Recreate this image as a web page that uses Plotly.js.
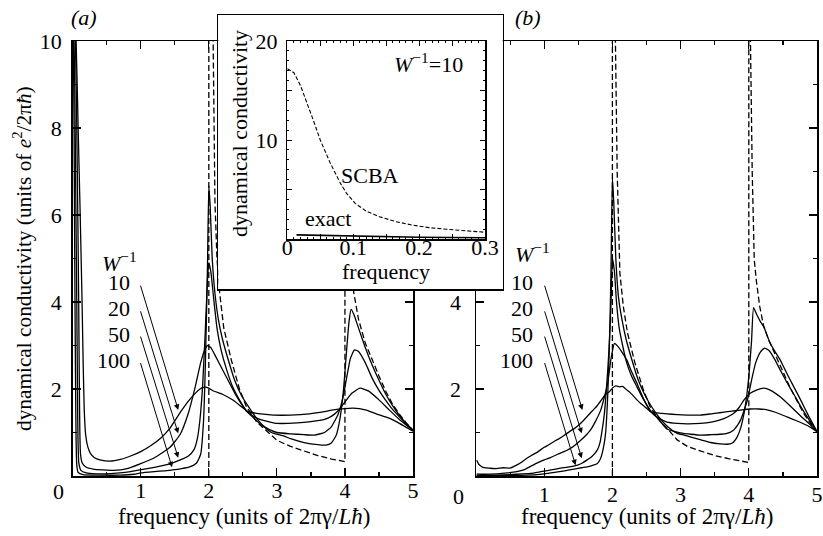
<!DOCTYPE html>
<html>
<head>
<meta charset="utf-8">
<script src="https://cdn.plot.ly/plotly-3.0.1.min.js"></script>
<style>html,body{margin:0;padding:0;background:#fff;}#chart{width:823px;height:536px;}</style>
</head>
<body>
<div id="chart"></div>
<script>
// ---------------- DATA ----------------
// Panel (a): W^-1 = 10, 20, 50, 100 (solid) and dashed reference curve
const aX10 = [0.015,0.05,0.08,0.11,0.135,0.155,0.17,0.19,0.22,0.26,0.32,0.4,0.55,0.7,0.85,1.0,1.15,1.3,1.43,1.58,1.7,1.8,1.87,1.93,2.0,2.06,2.2,2.36,2.58,2.8,2.95,3.2,3.48,3.7,3.83,4.0,4.12,4.3,4.46,4.65,4.8,5.0];
const aY10 = [11,10,8,6,4.2,2.5,1.5,0.95,0.68,0.52,0.42,0.37,0.34,0.38,0.46,0.56,0.7,0.88,1.1,1.46,1.72,1.9,2.0,2.04,2.02,1.96,1.88,1.74,1.48,1.42,1.4,1.4,1.43,1.48,1.52,1.55,1.56,1.52,1.43,1.33,1.21,1.03];

const aX20 = [0.01,0.04,0.06,0.075,0.088,0.097,0.105,0.115,0.14,0.2,0.3,0.45,0.6,0.8,0.99,1.2,1.43,1.58,1.7,1.8,1.88,1.94,1.98,2.03,2.1,2.2,2.3,2.4,2.55,2.65,2.75,2.9,3.0,3.3,3.5,3.7,3.8,3.9,4.0,4.1,4.22,4.35,4.5,4.65,4.8,5.0];
const aY20 = [11,10,8,6,4,2.2,1.0,0.5,0.3,0.2,0.16,0.14,0.13,0.17,0.28,0.42,0.66,0.96,1.45,2.05,2.6,2.9,3.0,2.95,2.75,2.45,2.15,1.85,1.5,1.38,1.3,1.24,1.21,1.22,1.25,1.3,1.37,1.5,1.7,1.9,2.02,1.95,1.75,1.52,1.3,1.05];

const aX50 = [0.01,0.03,0.045,0.06,0.07,0.078,0.09,0.12,0.2,0.35,0.5,0.7,0.85,0.99,1.2,1.43,1.58,1.7,1.78,1.83,1.87,1.91,1.95,1.98,2.0,2.03,2.07,2.12,2.18,2.26,2.35,2.45,2.55,2.65,2.75,2.9,3.0,3.2,3.4,3.55,3.7,3.8,3.9,3.97,4.03,4.08,4.14,4.2,4.3,4.4,4.5,4.6,4.7,4.8,4.9,5.0];
const aY50 = [11,9,6.5,4,2,0.8,0.3,0.13,0.07,0.05,0.05,0.07,0.1,0.14,0.2,0.28,0.37,0.46,0.6,0.85,1.3,2.1,3.4,4.5,4.9,4.7,4.1,3.4,2.9,2.45,2.05,1.75,1.5,1.35,1.2,1.06,1.0,0.97,0.95,0.94,1.0,1.13,1.42,1.8,2.3,2.7,2.9,2.86,2.6,2.25,1.97,1.74,1.53,1.36,1.2,1.05];

const aX100 = [0.005,0.02,0.03,0.04,0.05,0.06,0.08,0.15,0.4,0.7,0.9,1.0,1.2,1.35,1.47,1.6,1.72,1.82,1.88,1.92,1.95,1.98,2.0,2.02,2.05,2.09,2.14,2.2,2.28,2.38,2.48,2.58,2.7,2.82,2.92,3.0,3.1,3.2,3.4,3.6,3.72,3.8,3.87,3.93,3.98,4.02,4.06,4.09,4.13,4.2,4.3,4.4,4.5,4.6,4.7,4.8,4.9,5.0];
const aY100 = [11,8,5,2.5,0.8,0.25,0.08,0.03,0.02,0.02,0.04,0.07,0.1,0.12,0.14,0.17,0.21,0.3,0.5,1.2,2.6,4.8,6.67,6.2,5.0,4.2,3.6,3.15,2.7,2.2,1.85,1.6,1.33,1.12,1.0,0.96,0.92,0.86,0.77,0.72,0.71,0.76,0.93,1.35,2.0,2.8,3.55,3.83,3.72,3.4,2.95,2.55,2.2,1.88,1.62,1.4,1.21,1.05];

const aXd = [2.0,2.0,2.06,2.075,2.09,2.12,2.16,2.22,2.33,2.45,2.55,2.7,2.8,2.9,3.0,3.2,3.4,3.6,3.8,4.0,4.0,4.035,4.06,4.09,4.12,4.2,4.3,4.39,4.5,4.6,4.7,4.8,4.9,5.0];
const aYd = [0,10.5,10.5,8.0,6.3,5.0,4.2,3.4,2.67,2.0,1.6,1.25,1.1,0.95,0.82,0.68,0.57,0.47,0.39,0.33,10.5,10.5,7.5,5.3,4.3,3.6,3.05,2.7,2.3,1.95,1.65,1.42,1.22,1.05];

// Panel (b)
const bX10 = [0.01,0.04,0.08,0.12,0.2,0.3,0.4,0.5,0.58,0.65,0.72,0.8,0.9,1.0,1.08,1.15,1.22,1.29,1.37,1.45,1.52,1.59,1.66,1.72,1.78,1.84,1.9,1.95,2.0,2.05,2.1,2.15,2.21,2.27,2.32,2.36,2.42,2.47,2.56,2.65,2.8,2.95,3.1,3.29,3.45,3.6,3.68,3.8,3.9,4.02,4.15,4.27,4.4,4.56,4.7,4.86,5.0];
const bY10 = [0.36,0.27,0.22,0.19,0.18,0.17,0.19,0.18,0.24,0.3,0.38,0.46,0.55,0.66,0.73,0.8,0.86,0.93,1.02,1.1,1.19,1.3,1.42,1.52,1.62,1.75,1.88,1.93,2.02,2.07,2.05,2.06,1.98,1.9,1.82,1.75,1.66,1.6,1.48,1.45,1.43,1.41,1.40,1.40,1.43,1.46,1.48,1.5,1.52,1.54,1.54,1.52,1.46,1.36,1.27,1.16,1.02];

const bX20 = [0.01,0.1,0.3,0.46,0.6,0.7,0.8,0.9,1.0,1.1,1.2,1.29,1.4,1.54,1.62,1.68,1.75,1.83,1.88,1.93,1.98,2.03,2.08,2.14,2.21,2.28,2.36,2.45,2.56,2.68,2.8,2.95,3.1,3.29,3.45,3.58,3.68,3.78,3.86,3.93,4.02,4.12,4.22,4.32,4.46,4.6,4.76,4.9,5.0];
const bY20 = [0.05,0.04,0.05,0.07,0.1,0.14,0.22,0.3,0.37,0.43,0.5,0.56,0.65,0.83,0.95,1.06,1.25,1.52,1.8,2.13,2.7,3.05,2.98,2.85,2.67,2.4,2.13,1.8,1.48,1.33,1.24,1.21,1.2,1.21,1.24,1.29,1.35,1.44,1.58,1.75,1.9,1.98,2.02,1.97,1.82,1.62,1.38,1.18,1.02];

const bX50 = [0.01,0.3,0.6,0.8,0.95,1.1,1.24,1.37,1.49,1.56,1.63,1.7,1.78,1.82,1.85,1.88,1.9,1.93,1.95,1.98,2.0,2.03,2.06,2.1,2.15,2.21,2.28,2.36,2.46,2.56,2.68,2.8,2.92,3.04,3.15,3.29,3.45,3.58,3.68,3.78,3.84,3.88,3.93,3.98,4.04,4.1,4.17,4.23,4.3,4.38,4.46,4.56,4.66,4.76,4.88,5.0];
const bY50 = [0.02,0.02,0.04,0.06,0.1,0.14,0.18,0.21,0.25,0.3,0.37,0.45,0.6,0.78,1.06,1.4,1.75,2.4,2.9,4.0,5.0,4.7,4.0,3.4,3.0,2.6,2.3,2.05,1.75,1.5,1.3,1.08,1.02,0.98,0.96,0.94,0.95,0.96,0.98,1.06,1.18,1.29,1.5,1.75,2.2,2.6,2.85,2.94,2.88,2.68,2.44,2.15,1.88,1.6,1.3,1.02];

const bX100 = [0.01,0.5,0.9,1.1,1.3,1.44,1.55,1.63,1.72,1.78,1.82,1.85,1.88,1.9,1.93,1.96,1.98,2.0,2.02,2.05,2.09,2.14,2.2,2.28,2.38,2.48,2.58,2.7,2.82,2.95,3.05,3.14,3.3,3.44,3.58,3.68,3.76,3.83,3.88,3.93,3.97,4.0,4.04,4.07,4.12,4.17,4.22,4.3,4.38,4.46,4.56,4.66,4.76,4.88,5.0];
const bY100 = [0.01,0.01,0.03,0.07,0.12,0.16,0.19,0.21,0.25,0.29,0.38,0.52,0.75,0.98,1.8,3.2,4.8,6.85,6.3,5.0,4.1,3.6,3.15,2.7,2.2,1.85,1.58,1.32,1.12,0.98,0.94,0.9,0.83,0.77,0.74,0.73,0.76,0.9,1.1,1.44,1.85,2.28,3.1,3.87,3.7,3.55,3.43,3.1,2.87,2.67,2.35,2.05,1.75,1.37,1.02];

const bXd = [2.0,2.0,2.04,2.07,2.11,2.16,2.22,2.33,2.45,2.55,2.7,2.8,2.95,3.1,3.3,3.5,3.7,3.85,4.0,4.0,4.02,4.05,4.08,4.11,4.16,4.22,4.3,4.4,4.5,4.6,4.7,4.8,4.9,5.0];
const bYd = [0,10.5,10.5,7,4.66,3.9,3.3,2.6,2.0,1.6,1.25,1.1,0.83,0.68,0.57,0.47,0.4,0.35,0.31,10.5,10.5,7.0,4.97,4.5,3.9,3.43,3.1,2.75,2.4,2.05,1.75,1.45,1.22,1.02];

// Inset: W^-1 = 10, SCBA (dashed) and exact (solid)
const insX_scba = [0,0.01,0.02,0.03,0.04,0.05,0.065,0.08,0.09,0.103,0.12,0.14,0.165,0.19,0.215,0.242,0.27,0.3];
const insY_scba = [17.2,16.8,15.5,13.8,11.9,10.0,7.7,5.7,4.6,3.6,2.8,2.25,1.75,1.4,1.15,0.98,0.8,0.68];
const insX_exact = [0.014,0.03,0.045,0.07,0.1,0.15,0.2,0.25,0.3];
const insY_exact = [0.42,0.4,0.34,0.28,0.24,0.2,0.17,0.15,0.13];

// Labels
const wLabels = ['10','20','50','100'];
const aArrowHeadX = [1.55,1.55,1.55,1.46];
const aArrowHeadY = [1.52,0.98,0.42,0.2];
const aArrowTailX = [0.99,0.99,0.99,0.99];
const aArrowTailY = [4.41,3.82,3.24,2.63];
const bArrowHeadX = [1.56,1.55,1.55,1.46];
const bArrowHeadY = [1.52,0.98,0.41,0.25];
const bArrowTailX = [1.0,1.0,1.0,1.0];
const bArrowTailY = [4.41,3.82,3.24,2.63];
const mainXTicks = [0,1,2,3,4,5];
const mainXText = ['','1','2','3','4','5'];
const mainYTicks = [0,2,4,6,8,10];
const mainYText = ['','2','4','6','8','10'];
const insXTicks = [0,0.05,0.1,0.15,0.2,0.25,0.3];
const insXText = ['0','','0.1','','0.2','','0.3'];
const insYTicks = [0,5,10,15,20];
const insYText = ['','','10','','20'];

// ---------------- LAYOUT HELPERS ----------------
const W = 823, H = 536;
const FONT = 'Liberation Serif, Times New Roman, serif';
const px = v => v / W;
const py = v => 1 - v / H;

function solid(x, y, xa, ya) {
  return {x: x, y: y, xaxis: xa, yaxis: ya, type: 'scatter', mode: 'lines',
          line: {color: '#000', width: 1.3, shape: 'spline', smoothing: 0.45}, hoverinfo: 'skip', showlegend: false};
}
function dashed(x, y, xa, ya, dash, w) {
  return {x: x, y: y, xaxis: xa, yaxis: ya, type: 'scatter', mode: 'lines',
          line: {color: '#000', width: w || 1.3, dash: dash}, hoverinfo: 'skip', showlegend: false};
}

const traces = [
  solid(aX10, aY10, 'x', 'y'), solid(aX20, aY20, 'x', 'y'), solid(aX50, aY50, 'x', 'y'), solid(aX100, aY100, 'x', 'y'),
  dashed(aXd, aYd, 'x', 'y', '6px,3px'),
  solid(bX10, bY10, 'x2', 'y2'), solid(bX20, bY20, 'x2', 'y2'), solid(bX50, bY50, 'x2', 'y2'), solid(bX100, bY100, 'x2', 'y2'),
  dashed(bXd, bYd, 'x2', 'y2', '6px,3px'),
  {x: [], y: [], xaxis: 'x3', yaxis: 'y3', type: 'scatter', mode: 'lines', hoverinfo: 'skip', showlegend: false},
  dashed(insX_scba, insY_scba, 'x4', 'y4', '4px,2px', 1.1),
  {x: insX_exact, y: insY_exact, xaxis: 'x4', yaxis: 'y4', type: 'scatter', mode: 'lines',
   line: {color: '#000', width: 1.6}, hoverinfo: 'skip', showlegend: false}
];

function mainAxis(domain, anchor, range, tickvals, ticktext, minorVals, standoff) {
  return {
    domain: domain, anchor: anchor, range: range, fixedrange: true,
    showline: true, linecolor: '#000', linewidth: 1.5, mirror: 'allticks',
    ticks: 'inside', ticklen: 8, tickwidth: 1.2, tickcolor: '#000',
    tickmode: 'array', tickvals: tickvals, ticktext: ticktext,
    minor: {tickmode: 'array', tickvals: minorVals, ticks: 'inside', ticklen: 4, tickwidth: 1.2, tickcolor: '#000', showgrid: false},
    showgrid: false, zeroline: false,
    tickfont: {family: FONT, size: 22, color: '#000'},
    ticklabelstandoff: standoff
  };
}

const xDomA = [px(72.7), px(413)];
const xDomB = [px(476), px(817)];
const yDomMain = [py(476), py(41)];

const layout = {
  width: W, height: H, autosize: false,
  margin: {l: 0, r: 0, t: 0, b: 0, pad: 0},
  paper_bgcolor: '#fff', plot_bgcolor: '#fff',
  showlegend: false,
  xaxis: mainAxis(xDomA, 'y', [0, 5], mainXTicks, mainXText, [0.5,1.5,2.5,3.5,4.5], -6),
  yaxis: mainAxis(yDomMain, 'x', [0, 10], mainYTicks, mainYText, [1,3,5,7,9], 5),
  xaxis2: mainAxis(xDomB, 'y2', [0, 5], mainXTicks, mainXText, [0.5,1.5,2.5,3.5,4.5], -2),
  yaxis2: mainAxis(yDomMain, 'x2', [0, 10], mainYTicks, mainYText, [1,3,5,7,9], 9),
  xaxis3: {domain: [px(218.3), px(502.7)], anchor: 'y3', range: [0, 1], fixedrange: true,
           showline: true, linecolor: '#000', linewidth: 1.3, mirror: true, ticks: '', showticklabels: false, showgrid: false, zeroline: false},
  yaxis3: {domain: [py(289.3), py(15.3)], anchor: 'x3', range: [0, 1], fixedrange: true,
           showline: true, linecolor: '#000', linewidth: 1.3, mirror: true, ticks: '', showticklabels: false, showgrid: false, zeroline: false},
  xaxis4: {domain: [px(287.3), px(485)], anchor: 'y4', range: [0, 0.3], fixedrange: true,
           showline: true, linecolor: '#000', linewidth: 1.5, mirror: 'allticks',
           ticks: 'inside', ticklen: 5, tickwidth: 1, tickcolor: '#000',
           tickmode: 'array', tickvals: insXTicks, ticktext: insXText,
           minor: {dtick: 0.01, tick0: 0, ticks: 'inside', ticklen: 2, tickwidth: 1, tickcolor: '#000', showgrid: false},
           showgrid: false, zeroline: false, tickfont: {family: FONT, size: 22, color: '#000'}, ticklabelstandoff: -12},
  yaxis4: {domain: [py(239), py(41)], anchor: 'x4', range: [0, 20], fixedrange: true,
           showline: true, linecolor: '#000', linewidth: 1.5, mirror: 'allticks',
           ticks: 'inside', ticklen: 5, tickwidth: 1, tickcolor: '#000',
           tickmode: 'array', tickvals: insYTicks, ticktext: insYText,
           minor: {dtick: 1, tick0: 0, ticks: 'inside', ticklen: 2, tickwidth: 1, tickcolor: '#000', showgrid: false},
           showgrid: false, zeroline: false, tickfont: {family: FONT, size: 22, color: '#000'}, ticklabelstandoff: 4},
  annotations: []
};

function txt(text, xp, yp, extra) {
  return Object.assign({xref: 'paper', yref: 'paper', x: px(xp), y: py(yp), xanchor: 'center', yanchor: 'middle',
    text: text, showarrow: false, font: {family: FONT, size: 22, color: '#000'}}, extra || {});
}
const A = layout.annotations;
A.push(txt('<i>(a)</i>', 84, 17.5));
A.push(txt('<i>(b)</i>', 527.7, 17.5));
A.push(txt('dynamical conductivity (units of <i>e</i><sup>2</sup>/2π<i>ħ</i>)', 23, 259, {textangle: -90, font: {family: FONT, size: 21.3, color: '#000'}}));
A.push(txt('frequency (units of 2πγ/<i>L</i><i>ħ</i>)', 244, 516, {font: {family: FONT, size: 23, color: '#000'}}));
A.push(txt('frequency (units of 2πγ/<i>L</i><i>ħ</i>)', 647, 516, {font: {family: FONT, size: 23, color: '#000'}}));
A.push(txt('0', 58.3, 491.5));
A.push(txt('0', 458, 496));
// W^-1 labels
A.push(txt('<i>W</i><sup>−1</sup>', 119, 262));
A.push(txt('<i>W</i><sup>−1</sup>', 532, 253));
const labY = [282, 308.5, 334.5, 360.5];
wLabels.forEach((s, i) => {
  A.push(txt(s, 132, labY[i], {xanchor: 'right'}));
  A.push(txt(s, 535, labY[i], {xanchor: 'right'}));
  A.push({xref: 'x', yref: 'y', axref: 'x', ayref: 'y', x: aArrowHeadX[i], y: aArrowHeadY[i],
          ax: aArrowTailX[i], ay: aArrowTailY[i], text: '', showarrow: true,
          arrowhead: 2, arrowsize: 1.1, arrowwidth: 1, arrowcolor: '#000', standoff: 0, startstandoff: 0});
  A.push({xref: 'x2', yref: 'y2', axref: 'x2', ayref: 'y2', x: bArrowHeadX[i], y: bArrowHeadY[i],
          ax: bArrowTailX[i], ay: bArrowTailY[i], text: '', showarrow: true,
          arrowhead: 2, arrowsize: 1.1, arrowwidth: 1, arrowcolor: '#000', standoff: 0, startstandoff: 0});
});
// inset texts
A.push(txt('dynamical conductivity', 240, 133, {textangle: -90}));
A.push(txt('frequency', 386, 271));
A.push(txt('<i>W</i><sup>−1</sup>=10', 428, 63));
A.push(txt('SCBA', 370, 175));
A.push(txt('exact', 328, 219));

Plotly.newPlot('chart', traces, layout, {staticPlot: true, displayModeBar: false});
</script>
</body>
</html>
